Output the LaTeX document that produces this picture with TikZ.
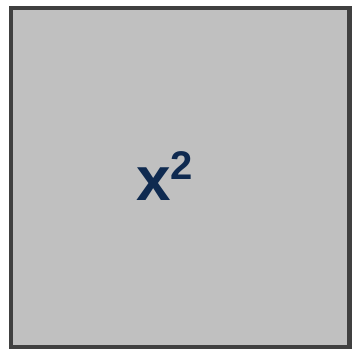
\documentclass[tikz,border=0pt]{standalone}
\usepackage{fontspec}
\setmainfont{Liberation Sans}
\definecolor{boxfill}{HTML}{C0C0C0}
\definecolor{boxline}{HTML}{404040}
\definecolor{navy}{HTML}{0F2A50}
\begin{document}
\begin{tikzpicture}[x=1pt,y=1pt,
  sqbox/.style={draw=boxline,fill=boxfill,line width=4.5pt},
  lbl/.style={text=navy,font=\bfseries\fontsize{62}{62}\selectfont,inner sep=0pt}]
\useasboundingbox (0,0) rectangle (353,354);
\path[sqbox] (11,7) rectangle (349.5,346);
\node[lbl,anchor=base west] (t) at (136,153) {x\raisebox{22pt}{\fontsize{40}{40}\selectfont 2}};
\end{tikzpicture}
\end{document}
